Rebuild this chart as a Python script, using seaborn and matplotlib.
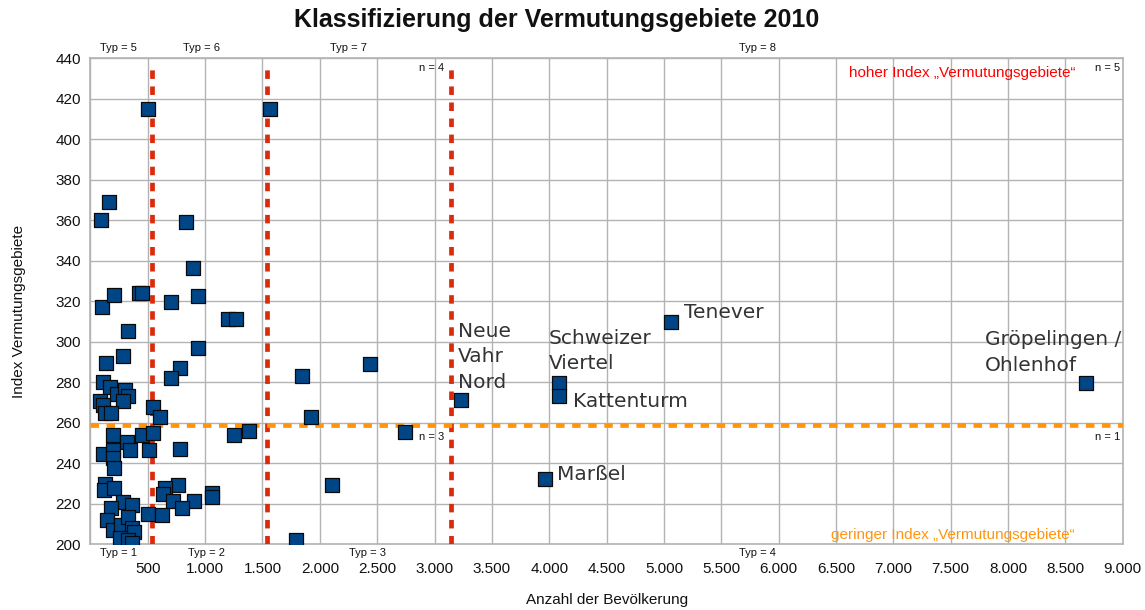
import matplotlib
matplotlib.use("Agg")
import matplotlib.pyplot as plt
import seaborn as sns
import pandas as pd
from matplotlib.ticker import MultipleLocator, FuncFormatter

# ---------------- data ----------------
bevoelkerung = [
    # Typ 5
    500, 93, 165, 100, 206, 420, 447, 325, 287, 137, 110, 168, 230, 302, 331, 285,
    84, 113, 128, 180,
    # Typ 1
    194, 447, 317, 346, 514, 113, 194, 194, 205, 128, 120, 209, 287, 360, 180, 142,
    200, 267, 331, 360, 383, 259, 331, 360, 506,
    # Typ 2
    543, 1250, 1380, 785, 767, 650, 636, 1058, 1058, 900, 723, 798, 625,
    # Typ 6
    831, 897, 940, 703, 1203, 1267, 936, 782, 700, 549, 607,
    # Typ 7
    1565, 1848, 2438, 1924,
    # Typ 3
    2743, 2104, 1790,
    # Typ 8 / Typ 4
    3231, 4086, 4086, 5062, 8681, 3964,
]
index_vermutung = [
    415, 360, 369, 317, 323, 324, 324, 305.5, 293, 289.5, 280, 277.5, 274, 276, 273, 271,
    271, 268.8, 264.7, 264.7,
    254, 254, 250.7, 246.6, 246.6, 244.6, 246.6, 242.5, 237.5, 230, 227, 228, 221, 219.4, 217.8, 212,
    207, 209.5, 213.6, 207.9, 206.2, 203, 202.1, 200.5, 215,
    255, 254, 256, 247, 229.3, 228, 225, 225.5, 223.5, 221.6, 221.2, 217.8, 214.3,
    359, 336.6, 322.6, 319.5, 311.4, 311.4, 296.8, 287, 282, 268, 263,
    415, 283.3, 288.9, 263,
    255.6, 229.3, 202.1,
    271.3, 279.7, 273.2, 309.8, 279.7, 232.3,
]

label_names = ["Neue\nVahr\nNord", "Schweizer\nViertel", "Kattenturm", "Tenever",
               "Gröpelingen /\nOhlenhof", "Marßel"]
label_x = [3204, 3999, 4205, 5176, 7800, 4065]
label_y = [292.6, 295.3, 270.3, 314.6, 294.7, 234.6]

schwelle_bevoelkerung = [535, 1540, 3140]
schwelle_index = 259

typ_oben = ["Typ = 5", "Typ = 6", "Typ = 7", "Typ = 8"]
typ_oben_x = [241, 964, 2246, 5820]
typ_unten = ["Typ = 1", "Typ = 2", "Typ = 3", "Typ = 4"]
typ_unten_x = [241, 1008, 2412, 5812]

n_labels = ["n = 4", "n = 5", "n = 3", "n = 1"]
n_x = [3083, 8975, 3083, 8975]
n_y = [435, 435, 253, 253]

df = pd.DataFrame({"x": bevoelkerung, "y": index_vermutung})

# ---------------- style ----------------
sns.set_style("white")
plt.rcParams["font.family"] = ["Liberation Sans", "DejaVu Sans"]

fig = plt.figure(figsize=(11.45, 6.10), dpi=100)
ax = fig.add_axes([0.079, 0.1077, 0.9015, 0.7967])

grid_c = "#b3b3b3"
ax.set_xlim(0, 9000)
ax.set_ylim(200, 440)
ax.xaxis.set_major_locator(MultipleLocator(500))
ax.yaxis.set_major_locator(MultipleLocator(20))
ax.grid(True, color=grid_c, lw=1.0, zorder=0)
ax.set_axisbelow(True)
for s in ax.spines.values():
    s.set_color(grid_c)
    s.set_linewidth(1.2)

def fmt_x(v, pos):
    if v == 0:
        return ""
    return f"{int(v):,}".replace(",", ".")

ax.xaxis.set_major_formatter(FuncFormatter(fmt_x))
ax.tick_params(axis="x", length=7, color=grid_c, pad=6, labelsize=11, labelcolor="#111111")
ax.tick_params(axis="y", length=4, color=grid_c, pad=3, labelsize=11, labelcolor="#111111")

# threshold lines
for xv in schwelle_bevoelkerung:
    ax.axvline(xv, ymin=0.0, ymax=0.985, color="#dd2a0a", lw=3.4,
               linestyle=(0, (1.8, 1.6)), zorder=3)
ax.axhline(schwelle_index, color="#ff950e", lw=3.4, linestyle=(0, (1.8, 1.6)), zorder=3)

# points
sns.scatterplot(data=df, x="x", y="y", marker="s", s=90, color="#004586",
                edgecolor="#0a0a0a", linewidth=0.9, ax=ax, zorder=4, legend=False)

# district labels
for name, xv, yv in zip(label_names, label_x, label_y):
    ax.text(xv, yv, name, fontsize=14.5, family="DejaVu Sans", color="#333333",
            ha="left", va="center", linespacing=1.42, zorder=5)

# Typ labels
xtrans = ax.get_xaxis_transform()
for t, xv in zip(typ_oben, typ_oben_x):
    ax.text(xv, 1.021, t, transform=xtrans, fontsize=8, ha="center", va="center", color="#111111")
for t, xv in zip(typ_unten, typ_unten_x):
    ax.text(xv, -0.018, t, transform=xtrans, fontsize=8, ha="center", va="center", color="#111111")
for t, xv, yv in zip(n_labels, n_x, n_y):
    ax.text(xv, yv, t, fontsize=8, ha="right", va="center", color="#111111")

ax.text(8585, 432.7, "hoher Index „Vermutungsgebiete“", fontsize=11, color="#ff0000",
        ha="right", va="center")
ax.text(8585, 204.6, "geringer Index „Vermutungsgebiete“", fontsize=11, color="#ff950e",
        ha="right", va="center")

ax.set_xlabel("Anzahl der Bevölkerung", fontsize=11, color="#111111", labelpad=12)
ax.set_ylabel("Index Vermutungsgebiete", fontsize=11, color="#111111")
ax.yaxis.set_label_coords(-0.062, 0.479)

fig.text(0.486, 0.967, "Klassifizierung der Vermutungsgebiete 2010", fontsize=18,
         fontweight="bold", ha="center", va="center", color="#111111")

fig.savefig("out.png", dpi=100, facecolor="white")
